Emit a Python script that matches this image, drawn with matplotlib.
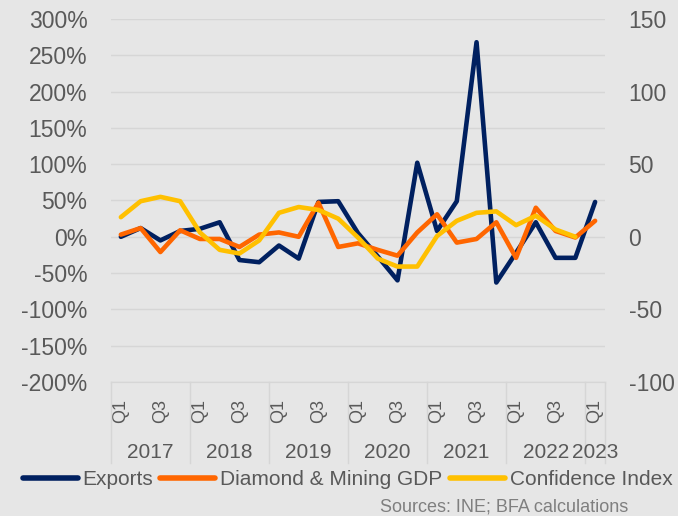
import numpy as np
import matplotlib.pyplot as plt
from matplotlib.ticker import FuncFormatter, MultipleLocator
from matplotlib.transforms import blended_transform_factory

plt.rcParams["font.family"] = ["Liberation Sans", "DejaVu Sans"]
plt.rcParams["axes.unicode_minus"] = False

BG = "#e6e6e6"
GRID = "#d6d6d6"
TEXT = "#595959"

years = ["2017", "2018", "2019", "2020", "2021", "2022", "2023"]
quarters = ["Q1", "Q2", "Q3", "Q4"] * 6 + ["Q1"]

# y/y change, %
exports = [0, 12, -5, 8, 11, 20, -32, -35, -12, -30, 48, 49, 5, -27, -60,
           102, 8, 49, 268, -63, -22, 20, -29, -29, 48]
mining_gdp = [3, 12, -21, 9, -3, -3, -14, 3, 6, 0, 47, -14, -9, -18, -26,
              6, 31, -8, -3, 20, -29, 40, 8, -1, 22]
# index, right axis
confidence = [13.5, 24.5, 27.5, 24.5, 3, -9, -11.5, -2.5, 16.5, 20.5, 18.5,
              12.5, -0.5, -15, -20.5, -20.5, 0.5, 11, 16.5, 17.5, 8, 14.5,
              5, 0, np.nan]

x = np.arange(len(quarters))

fig = plt.figure(figsize=(6.78, 5.16), dpi=100, facecolor=BG)
ax = fig.add_axes([0.1637, 0.2597, 0.7286, 0.7035], facecolor=BG)
ax2 = ax.twinx()

l1, = ax.plot(x, exports, color="#002060", lw=3.3, solid_capstyle="round",
              label="Exports", zorder=3)
l2, = ax.plot(x, mining_gdp, color="#ff6600", lw=3.3, solid_capstyle="round",
              label="Diamond & Mining GDP", zorder=4)
l3, = ax2.plot(x, confidence, color="#ffc000", lw=3.3, solid_capstyle="round",
               label="Confidence Index")

ax.set_xlim(-0.5, len(x) - 0.5)
ax.set_ylim(-200, 300)
ax2.set_ylim(-100, 150)
ax.yaxis.set_major_locator(MultipleLocator(50))
ax2.yaxis.set_major_locator(MultipleLocator(50))
ax.yaxis.set_major_formatter(FuncFormatter(lambda v, p: f"{v:.0f}%"))
ax.grid(axis="y", color=GRID, lw=1.0)
ax.set_axisbelow(True)

for a in (ax, ax2):
    for s in ("left", "right", "top"):
        a.spines[s].set_visible(False)
    a.spines["bottom"].set_color(GRID)
    a.tick_params(axis="y", length=0, labelsize=16.5, colors=TEXT)
ax.tick_params(axis="y", pad=17)
ax2.tick_params(axis="y", pad=17)

# quarter labels (every other one shown)
ax.set_xticks(x[::2])
ax.set_xticklabels(quarters[::2], rotation=90, fontsize=13, color=TEXT)
ax.tick_params(axis="x", length=0, pad=12)

# year level of the category axis
tr = blended_transform_factory(ax.transData, ax.transAxes)
bounds = [-0.5, 3.5, 7.5, 11.5, 15.5, 19.5, 23.5, 24.5]
for b in bounds:
    ax.plot([b, b], [0, -0.224], transform=tr, color=GRID, lw=1.0,
            clip_on=False)
for i, yr in enumerate(years):
    ax.text((bounds[i] + bounds[i + 1]) / 2, -0.193, yr, transform=tr,
            ha="center", va="center", fontsize=15, color=TEXT)

leg = fig.legend(handles=[l1, l2, l3], loc="center", ncol=3,
                 bbox_to_anchor=(0.5125, 0.0698), frameon=False,
                 fontsize=15, handlelength=2.64, handletextpad=0.24,
                 columnspacing=0.34, borderpad=0, borderaxespad=0)
for t in leg.get_texts():
    t.set_color(TEXT)
for h in leg.legend_handles:
    h.set_linewidth(4)

fig.text(0.926, 0.0174, "Sources: INE; BFA calculations", ha="right",
         va="center", fontsize=13, color="#7f7f7f")

fig.savefig("out.png", dpi=100, facecolor=BG)
